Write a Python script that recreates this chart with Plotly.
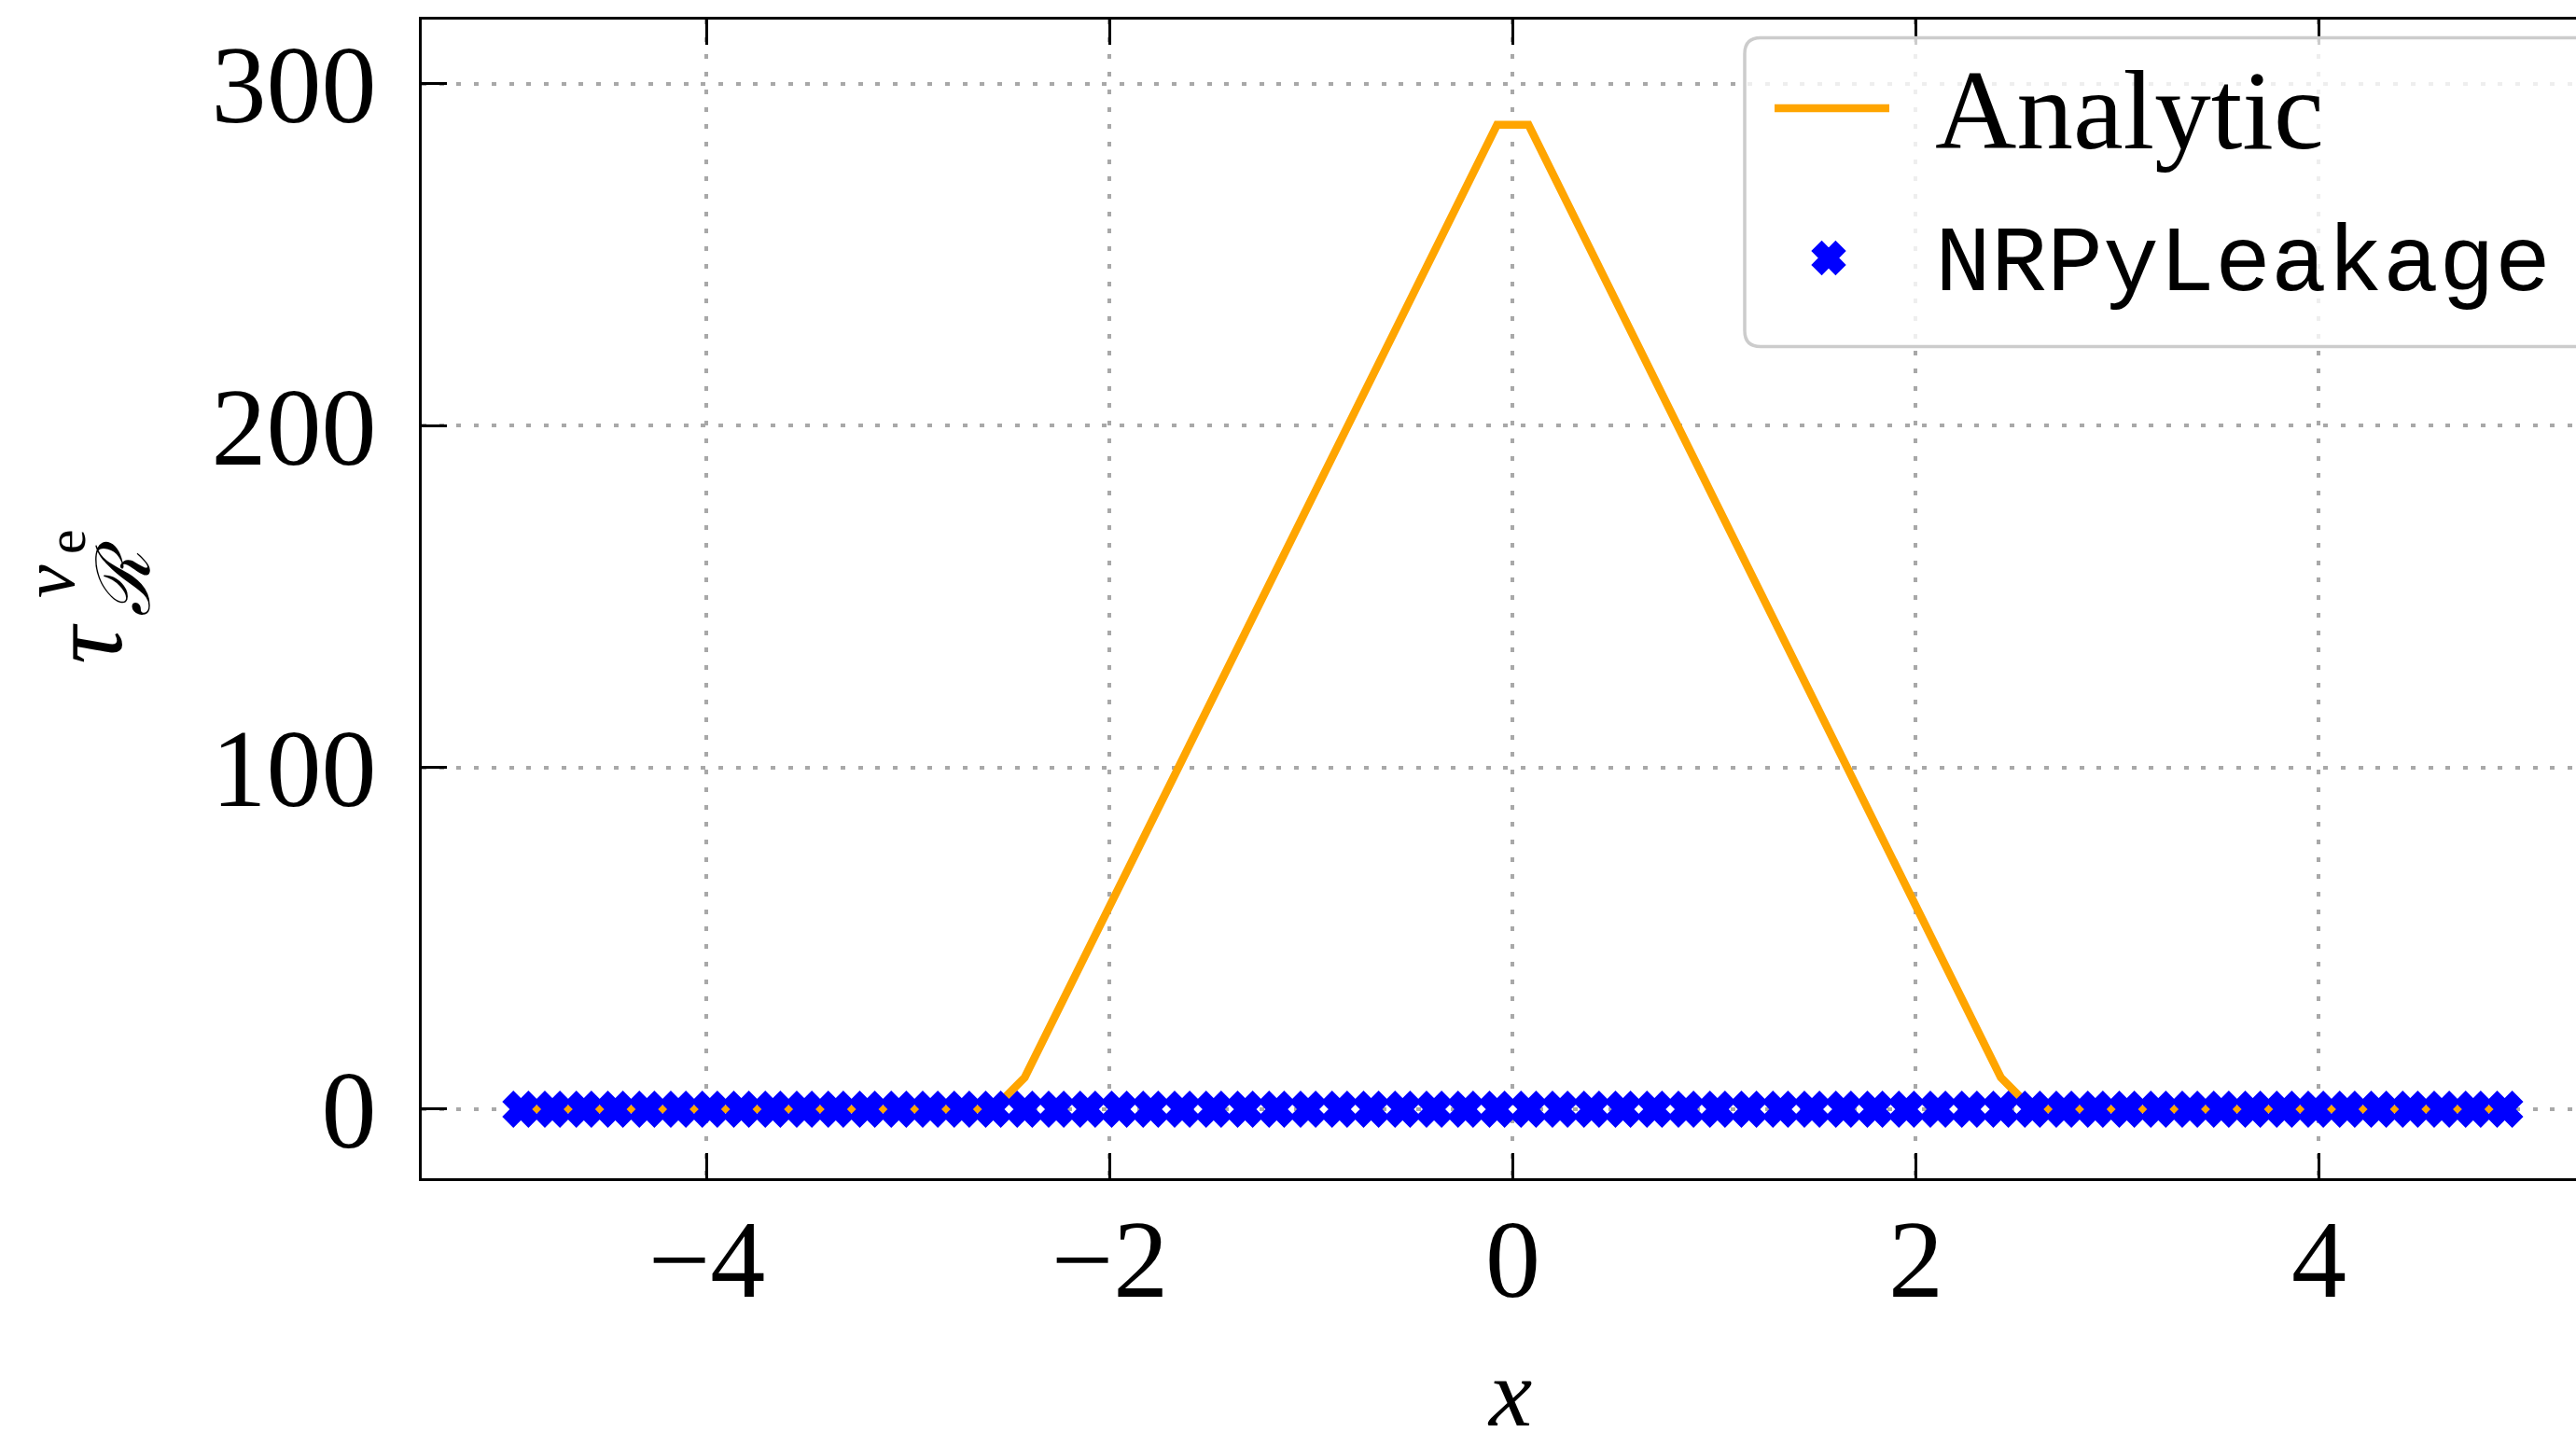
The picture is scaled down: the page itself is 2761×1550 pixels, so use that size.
import plotly.graph_objects as go

# ---------------- data ----------------
x_vals = [-4.921875, -4.765625, -4.609375, -4.453125, -4.296875, -4.140625, -3.984375, -3.828125,
          -3.671875, -3.515625, -3.359375, -3.203125, -3.046875, -2.890625, -2.734375, -2.578125,
          -2.421875, -2.265625, -2.109375, -1.953125, -1.796875, -1.640625, -1.484375, -1.328125,
          -1.171875, -1.015625, -0.859375, -0.703125, -0.546875, -0.390625, -0.234375, -0.078125,
          0.078125, 0.234375, 0.390625, 0.546875, 0.703125, 0.859375, 1.015625, 1.171875,
          1.328125, 1.484375, 1.640625, 1.796875, 1.953125, 2.109375, 2.265625, 2.421875,
          2.578125, 2.734375, 2.890625, 3.046875, 3.203125, 3.359375, 3.515625, 3.671875,
          3.828125, 3.984375, 4.140625, 4.296875, 4.453125, 4.609375, 4.765625, 4.921875]

analytic = [0.0, 0.0, 0.0, 0.0, 0.0, 0.0, 0.0, 0.0,
            0.0, 0.0, 0.0, 0.0, 0.0, 0.0, 0.0, 0.0,
            9.3, 27.9, 46.5, 65.1, 83.6, 102.2, 120.8, 139.4,
            158.0, 176.5, 195.1, 213.7, 232.3, 250.8, 269.4, 288.0,
            288.0, 269.4, 250.8, 232.3, 213.7, 195.1, 176.5, 158.0,
            139.4, 120.8, 102.2, 83.6, 65.1, 46.5, 27.9, 9.3,
            0.0, 0.0, 0.0, 0.0, 0.0, 0.0, 0.0, 0.0,
            0.0, 0.0, 0.0, 0.0, 0.0, 0.0, 0.0, 0.0]

nrpy_leakage = [0.0, 0.0, 0.0, 0.0, 0.0, 0.0, 0.0, 0.0,
                0.0, 0.0, 0.0, 0.0, 0.0, 0.0, 0.0, 0.0,
                0.0, 0.0, 0.0, 0.0, 0.0, 0.0, 0.0, 0.0,
                0.0, 0.0, 0.0, 0.0, 0.0, 0.0, 0.0, 0.0,
                0.0, 0.0, 0.0, 0.0, 0.0, 0.0, 0.0, 0.0,
                0.0, 0.0, 0.0, 0.0, 0.0, 0.0, 0.0, 0.0,
                0.0, 0.0, 0.0, 0.0, 0.0, 0.0, 0.0, 0.0,
                0.0, 0.0, 0.0, 0.0, 0.0, 0.0, 0.0, 0.0]

x_ticks = [-4, -2, 0, 2, 4]
y_ticks = [0, 100, 200, 300]
series_names = ["Analytic", "NRPyLeakage"]

# ---------------- geometry ----------------
W, H = 2761, 1550
ML, MR, MT, MB = 452, 0, 21, 287
PW = W - ML - MR
PH = H - MT - MB

def px_x(px):
    return (px - ML) / PW

def px_y(py):
    return (H - MB - py) / PH

ORANGE = "#FFA500"
BLUE = "#0000FF"
SERIF = "Liberation Serif"
MONO = "Liberation Mono"

fig = go.Figure()

fig.add_trace(go.Scatter(
    x=x_vals, y=analytic, mode="lines", name=series_names[0],
    line=dict(color=ORANGE, width=8.5), showlegend=False,
))
fig.add_trace(go.Scatter(
    x=x_vals, y=nrpy_leakage, mode="markers", name=series_names[1],
    marker=dict(symbol="x", size=28.5, color=BLUE, line=dict(color=BLUE, width=5.5)),
    showlegend=False, cliponaxis=False,
))

axis_common = dict(
    showline=True, linecolor="black", linewidth=3,
    ticks="inside", ticklen=27, tickwidth=3, tickcolor="black",
    showgrid=True, gridcolor="#a8a8a8", gridwidth=3.5, griddash="5px,13.7px",
    zeroline=False,
    tickfont=dict(family=SERIF, size=118, color="black"),
)

fig.update_xaxes(
    range=[-5.414, -5.414 + PW / 216.0],
    tickvals=x_ticks, ticktext=[("\u2212" + str(-t)) if t < 0 else str(t) for t in x_ticks],
    mirror="ticks", ticklabelstandoff=-18,
    **axis_common,
)
fig.update_yaxes(
    range=[-20.2, 318.8],
    tickvals=y_ticks, ticktext=[str(t) for t in y_ticks],
    mirror=False, ticklabelstandoff=22,
    **axis_common,
)

# ---------------- legend (drawn manually) ----------------
shapes = []
bx0, by0, bx1, by1, r = 1870, 40.5, 2800, 371.5, 17
rxp, ryp = r / PW, r / PH
X0, X1, Y0, Y1 = px_x(bx0), px_x(bx1), px_y(by1), px_y(by0)
path = (f"M{X0 + rxp},{Y1} L{X1 - rxp},{Y1} Q{X1},{Y1} {X1},{Y1 - ryp} "
        f"L{X1},{Y0 + ryp} Q{X1},{Y0} {X1 - rxp},{Y0} L{X0 + rxp},{Y0} "
        f"Q{X0},{Y0} {X0},{Y0 + ryp} L{X0},{Y1 - ryp} Q{X0},{Y1} {X0 + rxp},{Y1} Z")
shapes.append(dict(type="path", xref="paper", yref="paper", path=path,
                   fillcolor="rgba(255,255,255,0.8)", line=dict(color="#cccccc", width=3.5),
                   layer="above"))
# line sample
shapes.append(dict(type="line", xref="paper", yref="paper",
                   x0=px_x(1902), x1=px_x(2025), y0=px_y(116), y1=px_y(116),
                   line=dict(color=ORANGE, width=8.5), layer="above"))
# X glyph sample
cx, cy, q = 1960, 276.5, 7.4
pts = [(0, q), (q, 2 * q), (2 * q, q), (q, 0), (2 * q, -q), (q, -2 * q), (0, -q),
       (-q, -2 * q), (-2 * q, -q), (-q, 0), (-2 * q, q), (-q, 2 * q)]
xp = "M" + " L".join(f"{px_x(cx + a)},{px_y(cy + b)}" for a, b in pts) + " Z"
shapes.append(dict(type="path", xref="paper", yref="paper", path=xp,
                   fillcolor=BLUE, line=dict(color=BLUE, width=5.5), layer="above"))

annotations = [
    dict(text=series_names[0], xref="paper", yref="paper", x=px_x(2072), y=px_y(118),
         xanchor="left", yanchor="middle", showarrow=False,
         font=dict(family=SERIF, size=121, color="black")),
    dict(text=series_names[1], xref="paper", yref="paper", x=px_x(2072), y=px_y(285),
         xanchor="left", yanchor="middle", showarrow=False,
         font=dict(family=MONO, size=100, color="black")),
    # x-axis label
    dict(text="<i>x</i>", xref="paper", yref="paper", x=px_x(1618), y=px_y(1492),
         xanchor="center", yanchor="middle", showarrow=False,
         font=dict(family=SERIF, size=104, color="black")),
    # y-axis label pieces (rotated)
    dict(text="<i>\u03c4</i>", xref="paper", yref="paper", x=px_x(92), y=px_y(690),
         xanchor="center", yanchor="middle", showarrow=False, textangle=-90,
         font=dict(family=SERIF, size=112, color="black")),
    dict(text="<i>\u211b</i>", xref="paper", yref="paper", x=px_x(133), y=px_y(621),
         xanchor="center", yanchor="middle", showarrow=False, textangle=-90,
         font=dict(family=SERIF, size=80, color="black")),
    dict(text="<i>\u03bd</i>", xref="paper", yref="paper", x=px_x(52), y=px_y(623),
         xanchor="center", yanchor="middle", showarrow=False, textangle=-90,
         font=dict(family=SERIF, size=80, color="black")),
    dict(text="e", xref="paper", yref="paper", x=px_x(71), y=px_y(581),
         xanchor="center", yanchor="middle", showarrow=False, textangle=-90,
         font=dict(family=SERIF, size=60, color="black")),
]

fig.update_layout(
    width=W, height=H,
    margin=dict(l=ML, r=MR, t=MT, b=MB, pad=0),
    paper_bgcolor="white", plot_bgcolor="white",
    showlegend=False,
    shapes=shapes, annotations=annotations,
)

fig.write_html("out.html")
